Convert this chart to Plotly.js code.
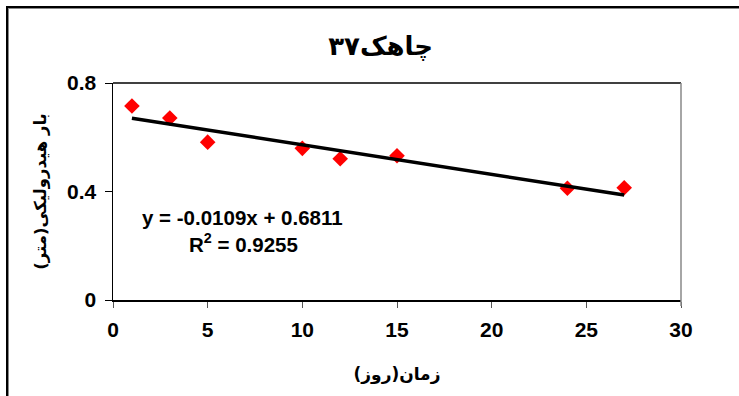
<!DOCTYPE html>
<html>
<head>
<meta charset="utf-8">
<script src="https://cdn.plot.ly/plotly-3.0.1.min.js"></script>
<style>
html,body{margin:0;padding:0;background:#fff;}
#frame{position:absolute;left:6px;top:6px;width:760px;height:420px;border-left:2px solid #000;border-top:2px solid #000;box-shadow:inset 1px 1px 0 #888;pointer-events:none;z-index:5;}
#chart{position:absolute;left:0;top:0;width:739px;height:396px;}
</style>
</head>
<body>
<div id="chart"></div>
<div id="frame"></div>
<script>
var days = [1, 3, 5, 10, 12, 15, 24, 27];
var head = [0.715, 0.671, 0.582, 0.559, 0.521, 0.532, 0.412, 0.414];
var slope = -0.0109;
var intercept = 0.6811;
var trendX = [1, 27];
var trendY = trendX.map(function (x) { return slope * x + intercept; });
var xTickVals = [0, 5, 10, 15, 20, 25, 30];
var xTickText = ['0', '5', '10', '15', '20', '25', '30'];
var yTickVals = [0, 0.4, 0.8];
var yTickText = ['0', '0.4', '0.8'];
var titleText = 'چاهک۳۷';
var xTitle = 'زمان(روز)';
var yTitle = 'بار هیدرولیکی(متر)';
var eqText = 'y = -0.0109x + 0.6811';
var r2Text = 'R<sup>2</sup> = 0.9255';

var fontFam = 'Arial, "Liberation Sans", sans-serif';
var arFam = '"DejaVu Sans", "Noto Sans", sans-serif';

var data = [
  {x: days, y: head, type: 'scatter', mode: 'markers',
   marker: {symbol: 'diamond', size: 12, color: '#ff0000'}, showlegend: false},
  {x: trendX, y: trendY, type: 'scatter', mode: 'lines',
   line: {color: '#000', width: 3.5}, showlegend: false}
];

var layout = {
  width: 739, height: 396,
  margin: {l: 113, r: 58, t: 83, b: 96},
  paper_bgcolor: '#fff', plot_bgcolor: '#fff',
  showlegend: false,
  title: {text: titleText, x: 0.515, xanchor: 'center', y: 0.885, yanchor: 'middle',
          font: {family: arFam, size: 26, color: '#000', weight: 700}},
  xaxis: {range: [0, 30], tickmode: 'array', tickvals: xTickVals, ticktext: xTickText,
          showgrid: false, zeroline: false,
          showline: true, linecolor: '#000', linewidth: 1.5,
          ticks: 'outside', ticklen: 6, tickcolor: '#555', ticklabelstandoff: 4,
          tickfont: {family: fontFam, size: 21, color: '#000', weight: 700},
          title: {text: xTitle, standoff: 28, font: {family: arFam, size: 17, color: '#000', weight: 700}}},
  yaxis: {range: [0, 0.8], tickmode: 'array', tickvals: yTickVals, ticktext: yTickText,
          showgrid: false, zeroline: false,
          showline: true, linecolor: '#000', linewidth: 1.5,
          ticks: 'outside', ticklen: 7, tickcolor: '#000', ticklabelstandoff: 4,
          tickfont: {family: fontFam, size: 21, color: '#000', weight: 700},
          title: {text: yTitle, standoff: 16, font: {family: arFam, size: 16.5, color: '#000', weight: 700}}},
  shapes: [
    {type: 'line', xref: 'paper', yref: 'paper', x0: 0, x1: 1, y0: 1, y1: 1, line: {color: '#000', width: 1.5}},
    {type: 'line', xref: 'paper', yref: 'paper', x0: 1, x1: 1, y0: 1, y1: -0.028, line: {color: '#888', width: 1.5}}
  ],
  annotations: [
    {text: eqText, xref: 'paper', yref: 'paper', x: 0.228, y: 0.378,
     xanchor: 'center', yanchor: 'middle', showarrow: false,
     font: {family: fontFam, size: 20.5, color: '#000', weight: 700}},
    {text: r2Text, xref: 'paper', yref: 'paper', x: 0.229, y: 0.262,
     xanchor: 'center', yanchor: 'middle', showarrow: false,
     font: {family: fontFam, size: 20.5, color: '#000', weight: 700}}
  ]
};

Plotly.newPlot('chart', data, layout, {displayModeBar: false, staticPlot: true});
</script>
</body>
</html>
